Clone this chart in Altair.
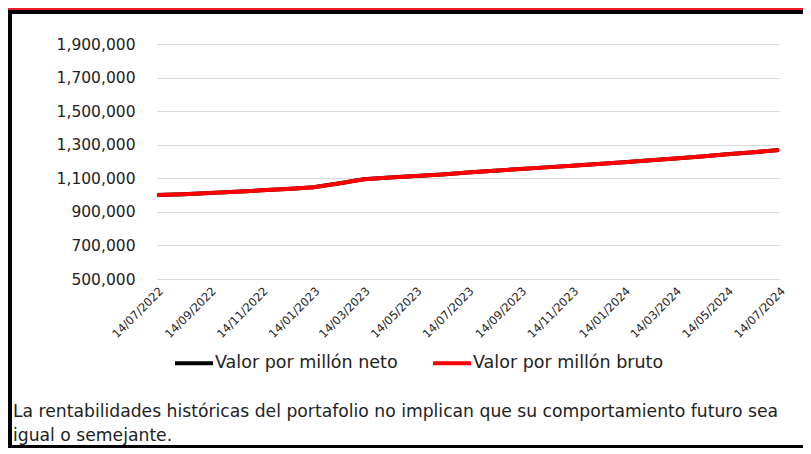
import altair as alt
import pandas as pd

# ---- data ----
fechas = [
    "2022-07-14", "2022-08-14", "2022-09-14", "2022-10-14", "2022-11-14", "2022-12-14",
    "2023-01-14", "2023-02-14", "2023-03-14", "2023-04-14", "2023-05-14", "2023-06-14",
    "2023-07-14", "2023-08-14", "2023-09-14", "2023-10-14", "2023-11-14", "2023-12-14",
    "2024-01-14", "2024-02-14", "2024-03-14", "2024-04-14", "2024-05-14", "2024-06-14",
    "2024-07-14",
]
valor_bruto = [
    1000000, 1005000, 1013000, 1020000, 1028000, 1036000,
    1046000, 1070000, 1094000, 1104000, 1113000, 1123000,
    1134000, 1145000, 1155000, 1165000, 1175000, 1185000,
    1196000, 1207000, 1218000, 1230000, 1243000, 1255000,
    1268000,
]
valor_neto = [
    1000000, 1005000, 1013000, 1020000, 1028000, 1036000,
    1046000, 1070000, 1094000, 1104000, 1113000, 1123000,
    1134000, 1145000, 1155000, 1165000, 1175000, 1185000,
    1196000, 1207000, 1218000, 1230000, 1243000, 1255000,
    1268000,
]
serie_neto = "Valor por millón neto"
serie_bruto = "Valor por millón bruto"
y_ticks = [500000, 700000, 900000, 1100000, 1300000, 1500000, 1700000, 1900000]
x_ticks = [(2022, 7), (2022, 9), (2022, 11), (2023, 1), (2023, 3), (2023, 5), (2023, 7),
           (2023, 9), (2023, 11), (2024, 1), (2024, 3), (2024, 5), (2024, 7)]
nota = ["La rentabilidades históricas del portafolio no implican que su comportamiento futuro sea",
        "igual o semejante."]

FONT = "DejaVu Sans"
TXT = "#222222"

df_neto = pd.DataFrame({"fecha": fechas, "valor": valor_neto, "serie": serie_neto})
df_bruto = pd.DataFrame({"fecha": fechas, "valor": valor_bruto, "serie": serie_bruto})

x_vals = [alt.DateTime(year=y, month=m, date=14, utc=True) for (y, m) in x_ticks]

x_enc = alt.X(
    "fecha:T",
    scale=alt.Scale(type="utc", domain=[x_vals[0], x_vals[-1]], nice=False),
    axis=alt.Axis(values=x_vals, format="%d/%m/%Y", labelAngle=315, grid=False,
                  domain=False, ticks=False, labelPadding=6, labelFontSize=11.5,
                  labelFont=FONT, labelColor=TXT, title=None, labelOverlap=False),
)
y_enc = alt.Y(
    "valor:Q",
    scale=alt.Scale(domain=[500000, 1900000], nice=False, zero=False),
    axis=alt.Axis(values=y_ticks, format=",.0f", grid=True, gridColor="#d9d9d9",
                  gridWidth=1, domain=False, ticks=False, labelPadding=22,
                  labelFontSize=15.5, labelFont=FONT, labelColor=TXT, title=None),
)
color_enc = alt.Color(
    "serie:N",
    scale=alt.Scale(domain=[serie_neto, serie_bruto], range=["#000000", "#ff0000"]),
    legend=alt.Legend(orient="none", legendX=16, legendY=298, direction="horizontal",
                      title=None, symbolType="stroke", symbolStrokeWidth=4,
                      symbolSize=1444, labelFontSize=17.5, labelFont=FONT,
                      labelColor=TXT, columnPadding=27, labelOffset=0,
                      labelLimit=400),
)

linea_neto = alt.Chart(df_neto).mark_line(strokeWidth=4).encode(x=x_enc, y=y_enc, color=color_enc)
linea_bruto = alt.Chart(df_bruto).mark_line(strokeWidth=4).encode(x=x_enc, y=y_enc, color=color_enc)

texto = alt.Chart(pd.DataFrame({"t": [0]})).mark_text(
    text=nota, align="left", baseline="middle", fontSize=17.2, font=FONT, color=TXT,
    lineHeight=24,
).encode(x=alt.value(-144), y=alt.value(368))

borde_izq = alt.Chart(pd.DataFrame({"t": [0]})).mark_rule(color="#000000", strokeWidth=4).encode(
    x=alt.value(-147), y=alt.value(-36), y2=alt.value(404))
borde_inf = alt.Chart(pd.DataFrame({"t": [0]})).mark_rule(color="#000000", strokeWidth=3).encode(
    x=alt.value(-149), x2=alt.value(646), y=alt.value(402.5))
borde_sup_rojo = alt.Chart(pd.DataFrame({"t": [0]})).mark_rule(color="#ee1c25", strokeWidth=2).encode(
    x=alt.value(-149), x2=alt.value(646), y=alt.value(-35))
borde_sup_negro = alt.Chart(pd.DataFrame({"t": [0]})).mark_rule(color="#000000", strokeWidth=4).encode(
    x=alt.value(-149), x2=alt.value(646), y=alt.value(-32))

chart = alt.layer(
    linea_neto, linea_bruto, texto, borde_izq, borde_inf, borde_sup_rojo, borde_sup_negro
).properties(
    width=622, height=235,
    padding={"left": 149, "top": 36, "right": 24, "bottom": 169},
    autosize=alt.AutoSizeParams(type="none"),
    background="white",
).configure_view(stroke=None)

chart.save("out.html", embed_options={"renderer": "svg", "actions": False})
